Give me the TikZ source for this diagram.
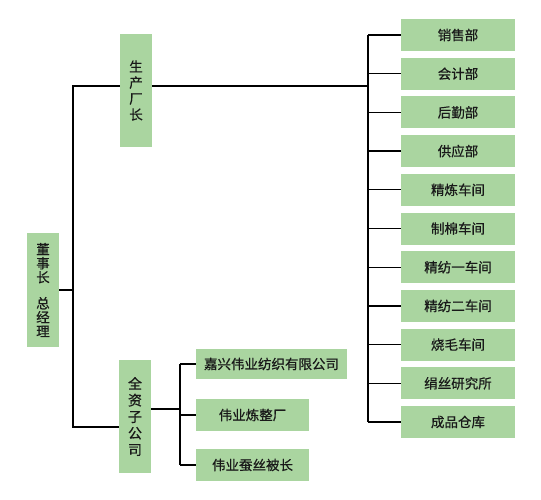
\documentclass[tikz,border=0pt]{standalone}
\usepackage{fontspec}
\newfontfamily\cjk[FakeBold=0.6]{Noto Sans CJK SC}
\definecolor{boxgreen}{RGB}{170,213,160}
\begin{document}
\begin{tikzpicture}[x=1pt,y=-1pt,
  box/.style={fill=boxgreen,draw=none,inner sep=0pt,font=\cjk\fontsize{13.5}{15}\selectfont,text=black!90},
  hbox/.style={box,minimum width=114pt,minimum height=32pt},
  vbox/.style={box,minimum width=32pt,minimum height=113pt,align=center,font=\cjk\fontsize{13.5}{16}\selectfont},
  conn/.style={draw=black,line width=1.2pt}]
\useasboundingbox (0,0) rectangle (541,500);
\node[vbox,minimum height=114pt] (chair) at (43,290) {董\\[-2pt]事\\[-2pt]长\\[10pt]总\\[-2pt]经\\[-2pt]理};
\node[vbox] (prod) at (136,90.5) {生\\产\\厂\\长};
\node[vbox,font=\cjk\fontsize{14}{16.5}\selectfont] (subs) at (135,416.5) {全\\资\\子\\公\\司};
\foreach \i/\t in {0/销售部,1/会计部,2/后勤部,3/供应部,4/精炼车间,5/制棉车间,6/精纺一车间,7/精纺二车间,8/烧毛车间,9/绢丝研究所,10/成品仓库}{
  \node[hbox] (r\i) at (458,35+38.7*\i) {\t};
}
\node[hbox,minimum width=151pt,minimum height=30pt] (s0) at (271.5,364) {嘉兴伟业纺织有限公司};
\node[hbox,minimum width=113pt] (s1) at (252.5,415) {伟业炼整厂};
\node[hbox,minimum width=113pt] (s2) at (252.5,465) {伟业蚕丝被长};
% left bus
\coordinate (bl) at (73,290);
\coordinate (blt) at (73,86);
\coordinate (blb) at (73,427);
\draw[conn] (chair.east) -- (bl);
\draw[conn] (prod.west |- blt) -- (blt) -- (blb) -- (subs.west |- blb);
% right bus
\coordinate (brt) at (368,35);
\coordinate (brb) at (368,422);
\coordinate (brp) at (368,86);
\draw[conn] (prod.east |- brp) -- (brp);
\draw[conn] (brt) -- (brb);
\foreach \i in {0,...,10}{
  \draw[conn] (r\i.west) -- (r\i.west -| brt);
}
% subsidiary bus
\coordinate (bst) at (180,364);
\coordinate (bsb) at (180,465);
\coordinate (bsm) at (180,409);
\draw[conn] (subs.east |- bsm) -- (bsm);
\draw[conn] (bst) -- (bsb);
\foreach \i in {0,1,2}{
  \draw[conn] (s\i.west) -- (s\i.west -| bst);
}
\end{tikzpicture}
\end{document}
